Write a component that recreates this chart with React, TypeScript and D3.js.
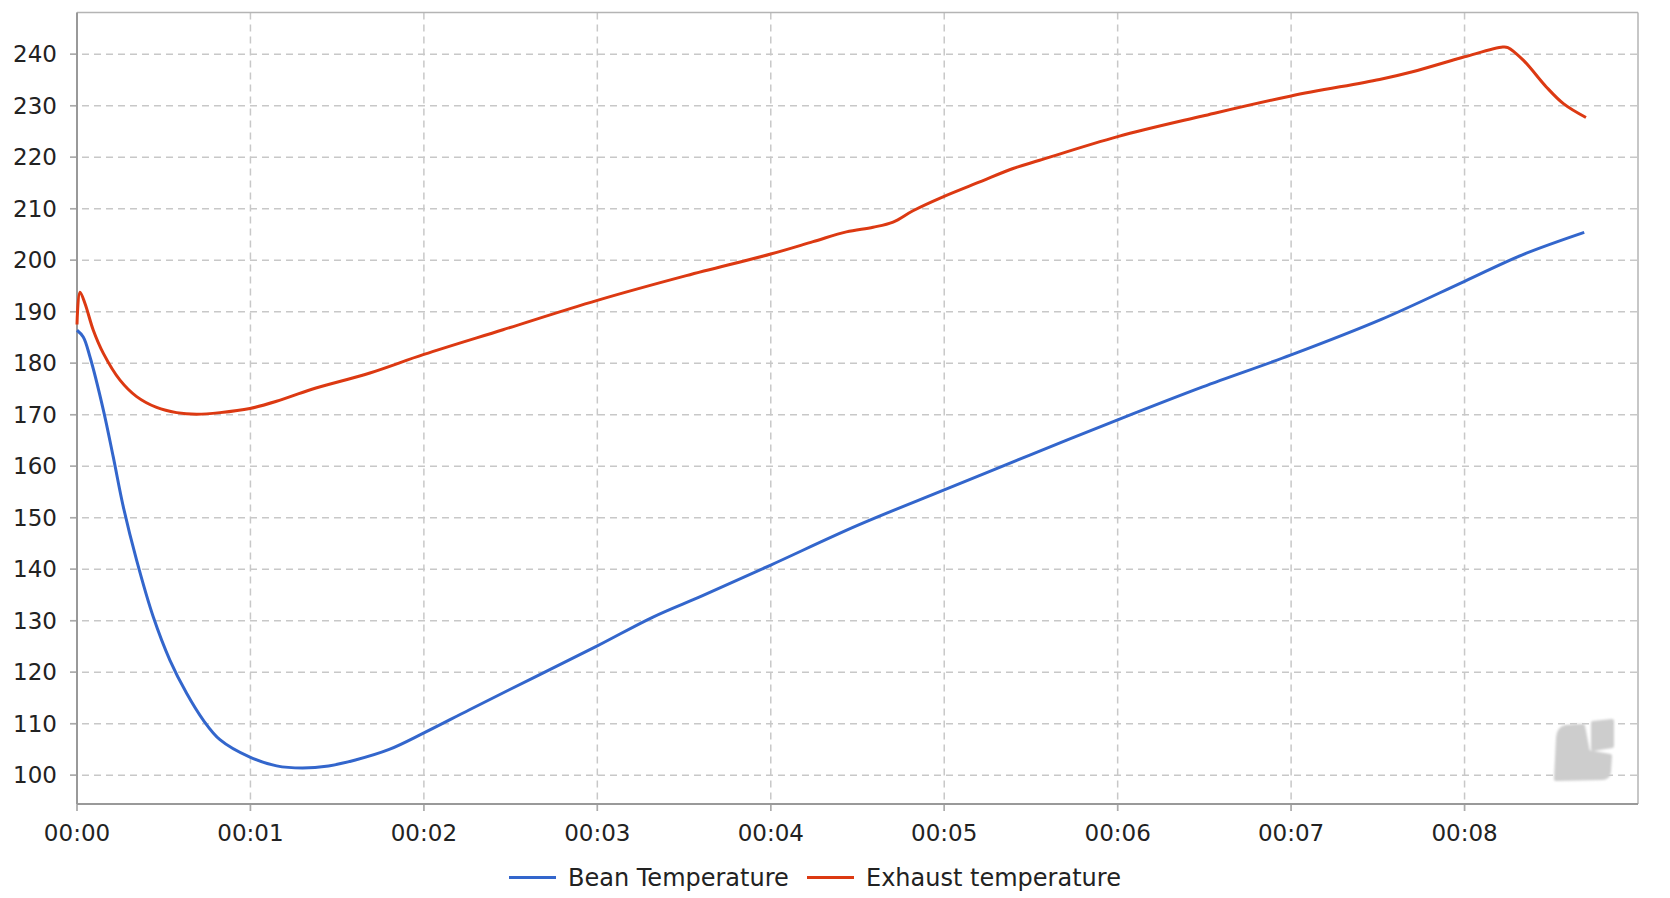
import React, { useRef, useEffect } from 'react';
import * as d3 from 'd3';

// time in minutes, temperature in °C
const beanTime = [0, 0.036, 0.075, 0.152, 0.209, 0.267, 0.344, 0.44, 0.536, 0.632, 0.728, 0.824, 0.997, 1.151, 1.3, 1.45, 1.6, 1.8, 2.0, 2.263, 2.648, 3.0, 3.321, 3.61, 4.0, 4.5, 5.0, 5.497, 6.0, 6.49, 7.0, 7.52, 8.0, 8.33, 8.69];
const beanTemp = [186.4, 185.1, 181.2, 170.9, 161.8, 152.1, 141.7, 130.7, 122.3, 115.9, 110.7, 106.9, 103.5, 101.8, 101.4, 101.8, 102.9, 105.0, 108.2, 112.7, 119.2, 125.1, 130.7, 134.9, 140.8, 148.5, 155.4, 162.2, 169.0, 175.4, 181.6, 188.5, 195.9, 201.0, 205.4];

const exhaustTime = [0, 0.017, 0.046, 0.094, 0.152, 0.248, 0.344, 0.459, 0.574, 0.69, 0.824, 0.997, 1.15, 1.35, 1.689, 2.0, 2.456, 3.0, 3.513, 4.0, 4.244, 4.436, 4.59, 4.705, 4.82, 4.993, 5.205, 5.397, 5.55, 6.0, 6.49, 7.0, 7.51, 7.7, 8.0, 8.22, 8.25, 8.34, 8.47, 8.57, 8.7];
const exhaustTemp = [187.5, 193.8, 191.6, 186.4, 181.9, 176.7, 173.5, 171.4, 170.4, 170.1, 170.4, 171.2, 172.6, 174.9, 178.1, 181.7, 186.5, 192.2, 197.0, 201.2, 203.6, 205.5, 206.4, 207.4, 209.6, 212.3, 215.2, 217.8, 219.4, 224.0, 228.0, 231.9, 235.1, 236.6, 239.5, 241.4, 241.3, 238.8, 233.7, 230.4, 227.7];

const yTicks = [100, 110, 120, 130, 140, 150, 160, 170, 180, 190, 200, 210, 220, 230, 240];
const xTicks = [0, 1, 2, 3, 4, 5, 6, 7, 8];
const xTickLabels = ['00:00', '00:01', '00:02', '00:03', '00:04', '00:05', '00:06', '00:07', '00:08'];

const seriesNames = ['Bean Temperature', 'Exhaust temperature'];
const seriesColors = ['#3366cc', '#dc3912'];

export default function App() {
    const svgRef = useRef<SVGSVGElement>(null);

    useEffect(() => {
        if (!svgRef.current) return;

        const W = 1670, H = 898;
        const margin = { top: 12.5, right: 32, bottom: 94, left: 77 };
        const width = W - margin.left - margin.right;
        const height = H - margin.top - margin.bottom;
        const font = '"DejaVu Sans", sans-serif';

        const svg = d3.select(svgRef.current)
            .attr('width', W)
            .attr('height', H);
        svg.selectAll('*').remove();

        const defs = svg.append('defs');
        defs.append('filter').attr('id', 'soft')
            .append('feGaussianBlur').attr('stdDeviation', 1.2);

        const g = svg.append('g')
            .attr('transform', `translate(${margin.left},${margin.top})`);

        const x = d3.scaleLinear().domain([0, 9]).range([0, width]);
        const y = d3.scaleLinear().domain([94.4, 248.1]).range([height, 0]);

        // grid
        g.append('g').selectAll('line')
            .data(yTicks)
            .join('line')
            .attr('x1', -7).attr('x2', width)
            .attr('y1', d => y(d)).attr('y2', d => y(d))
            .attr('stroke', '#c8c8c8')
            .attr('stroke-width', 1.5)
            .attr('stroke-dasharray', '7,5');

        g.append('g').selectAll('line')
            .data(xTicks)
            .join('line')
            .attr('x1', d => x(d)).attr('x2', d => x(d))
            .attr('y1', 0).attr('y2', height + 7)
            .attr('stroke', '#c8c8c8')
            .attr('stroke-width', 1.5)
            .attr('stroke-dasharray', '7,5');

        // tick marks
        g.append('g').selectAll('line')
            .data(yTicks)
            .join('line')
            .attr('x1', -7).attr('x2', 0)
            .attr('y1', d => y(d)).attr('y2', d => y(d))
            .attr('stroke', '#aaa')
            .attr('stroke-width', 1.5);

        g.append('g').selectAll('line')
            .data(xTicks)
            .join('line')
            .attr('x1', d => x(d)).attr('x2', d => x(d))
            .attr('y1', height).attr('y2', height + 7)
            .attr('stroke', '#aaa')
            .attr('stroke-width', 1.5);

        // frame
        g.append('line').attr('x1', 0).attr('x2', width).attr('y1', 0).attr('y2', 0)
            .attr('stroke', '#b4b4b4').attr('stroke-width', 1.5);
        g.append('line').attr('x1', width).attr('x2', width).attr('y1', 0).attr('y2', height)
            .attr('stroke', '#b4b4b4').attr('stroke-width', 1.5);
        g.append('line').attr('x1', 0).attr('x2', 0).attr('y1', 0).attr('y2', height)
            .attr('stroke', '#999').attr('stroke-width', 2);
        g.append('line').attr('x1', 0).attr('x2', width).attr('y1', height).attr('y2', height)
            .attr('stroke', '#999').attr('stroke-width', 2);

        // tick labels
        g.append('g').selectAll('text')
            .data(yTicks)
            .join('text')
            .attr('x', -20)
            .attr('y', d => y(d))
            .attr('dy', '0.36em')
            .attr('text-anchor', 'end')
            .attr('font-family', font)
            .attr('font-size', 23)
            .attr('fill', '#222')
            .text(d => String(d));

        g.append('g').selectAll('text')
            .data(xTicks)
            .join('text')
            .attr('x', d => x(d))
            .attr('y', height + 37)
            .attr('text-anchor', 'middle')
            .attr('font-family', font)
            .attr('font-size', 23)
            .attr('fill', '#222')
            .text((d, i) => xTickLabels[i]);

        // watermark logo
        const logo = svg.append('g').attr('fill', '#cdcdcd').attr('stroke', '#cdcdcd')
            .attr('stroke-width', 4).attr('stroke-linejoin', 'round')
            .attr('filter', 'url(#soft)');
        logo.append('path')
            .attr('d', 'M1566,727 Q1575,726 1583,726 L1588,752 L1610,756 L1609,772 Q1608,778 1602,778 L1556,779 L1558,738 Q1559,728 1566,727 Z');
        logo.append('path')
            .attr('d', 'M1593,723 L1612,721 L1612,746 L1593,749 Z');

        // lines
        const line = d3.line<[number, number]>()
            .x(d => x(d[0]))
            .y(d => y(d[1]))
            .curve(d3.curveCatmullRom.alpha(0.5));

        const bean: [number, number][] = beanTime.map((t, i) => [t, beanTemp[i]]);
        const exhaust: [number, number][] = exhaustTime.map((t, i) => [t, exhaustTemp[i]]);

        [bean, exhaust].forEach((data, i) => {
            g.append('path')
                .datum(data)
                .attr('fill', 'none')
                .attr('stroke', seriesColors[i])
                .attr('stroke-width', 3)
                .attr('stroke-linejoin', 'round')
                .attr('d', line);
        });

        // legend
        const legendY = 877.5;
        const legendX = [509, 807];
        const legend = svg.append('g');
        seriesNames.forEach((name, i) => {
            legend.append('line')
                .attr('x1', legendX[i]).attr('x2', legendX[i] + 47)
                .attr('y1', legendY).attr('y2', legendY)
                .attr('stroke', seriesColors[i])
                .attr('stroke-width', 3);
            legend.append('text')
                .attr('x', legendX[i] + 59)
                .attr('y', legendY)
                .attr('dy', '0.36em')
                .attr('font-family', font)
                .attr('font-size', 24)
                .attr('fill', '#222')
                .text(name);
        });
    }, []);

    return (
        <div style={{ position: 'absolute', left: 0, top: 0, width: 1670, height: 898, background: '#fff' }}>
            <svg ref={svgRef} style={{ display: 'block' }} />
        </div>
    );
}
